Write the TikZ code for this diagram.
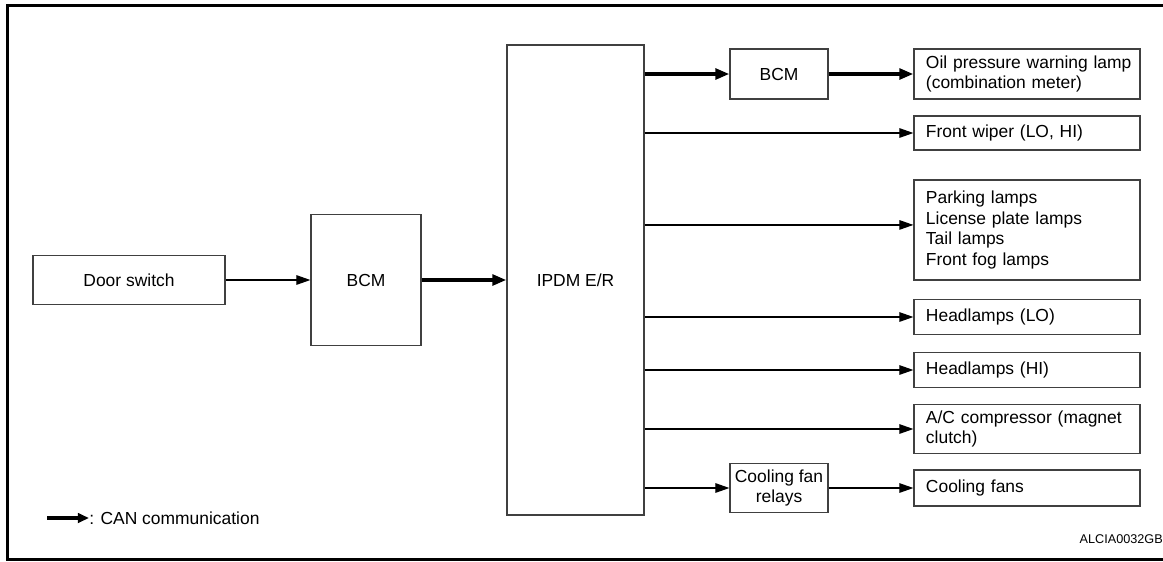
\documentclass[tikz,border=0pt]{standalone}
\usepackage{fontspec}
\setmainfont{Liberation Sans}
\usetikzlibrary{arrows.meta, positioning}

\begin{document}
\begin{tikzpicture}[
  x=0.025cm, y=-0.025cm,
  font=\fontsize{12.4}{14.5}\selectfont,
  unit/.style={draw=black!75, line width=0.85pt, inner sep=0pt, align=center},
  load/.style={draw=black!75, line width=0.85pt, text width=5.05cm, inner xsep=0.3cm, inner ysep=0pt, align=left},
  sig/.style={line width=0.8pt, -{Triangle[length=10pt, width=6.8pt]}},
  can/.style={line width=2.8pt, -{Triangle[length=10pt, width=7.6pt]}}
]
  \useasboundingbox (0,0) rectangle (1163,561);
  \draw[line width=2.2pt] (1163,5.5) -| (7.5,559.5) -- (1163,559.5);

  % inputs and control units
  \node[unit, minimum width=4.8cm, minimum height=1.225cm] (door) at (129,280) {Door switch};
  \node[unit, minimum width=2.75cm, minimum height=3.275cm] (bcm) at (366,280) {BCM};
  \node[unit, minimum width=3.425cm, minimum height=11.75cm] (ipdm) at (575.5,280) {IPDM E/R};
  \node[unit, minimum width=2.45cm, minimum height=1.25cm] (bcmout) at (779,74) {BCM};
  \node[unit, minimum width=2.45cm, minimum height=1.225cm] (relays) at (779,488) {Cooling fan\\relays};

  % loads
  \node[load, minimum height=1.25cm] (oil) at (1027,74) {\mbox{Oil pressure warning lamp}\\(combination meter)};
  \node[load, minimum height=0.85cm] (wiper) at (1027,133) {Front wiper (LO, HI)};
  \node[load, minimum height=2.5cm] (lamps) at (1027,230) {Parking lamps\\License plate lamps\\Tail lamps\\Front fog lamps};
  \node[load, minimum height=0.875cm] (headlo) at (1027,317) {Headlamps (LO)};
  \node[load, minimum height=0.875cm] (headhi) at (1027,370) {Headlamps (HI)};
  \node[load, minimum height=1.225cm] (comp) at (1027,429) {A/C compressor (magnet\\clutch)};
  \node[load, minimum height=0.9cm] (fans) at (1027,488) {Cooling fans};

  \draw[sig] (door.east) -- (door.east -| bcm.west);
  \draw[can] (bcm.east) -- (bcm.east -| ipdm.west);
  \draw[can] (ipdm.east |- bcmout) -- (bcmout);
  \draw[can] (bcmout) -- (oil);
  \draw[sig] (ipdm.east |- wiper) -- (wiper);
  \draw[sig] ([yshift=3.6pt]ipdm.east |- lamps) -- ([yshift=3.6pt]lamps.west);
  \draw[sig] (ipdm.east |- headlo) -- (headlo);
  \draw[sig] (ipdm.east |- headhi) -- (headhi);
  \draw[sig] (ipdm.east |- comp) -- (comp);
  \draw[sig] (ipdm.east |- relays) -- (relays);
  \draw[sig] (relays) -- (fans);

  % legend and drawing number
  \node[inner sep=0pt, anchor=west] (legend) at (89,518) {: CAN communication};
  \coordinate (k0) at (47,518);
  \draw[line width=2.2pt, -{Triangle[length=8pt, width=6.8pt]}] (k0) -- (legend.west);
  \node[inner sep=0pt, anchor=east, font=\fontsize{9}{10}\selectfont] (tag) at (1163,539) {ALCIA0032GB};
\end{tikzpicture}
\end{document}
